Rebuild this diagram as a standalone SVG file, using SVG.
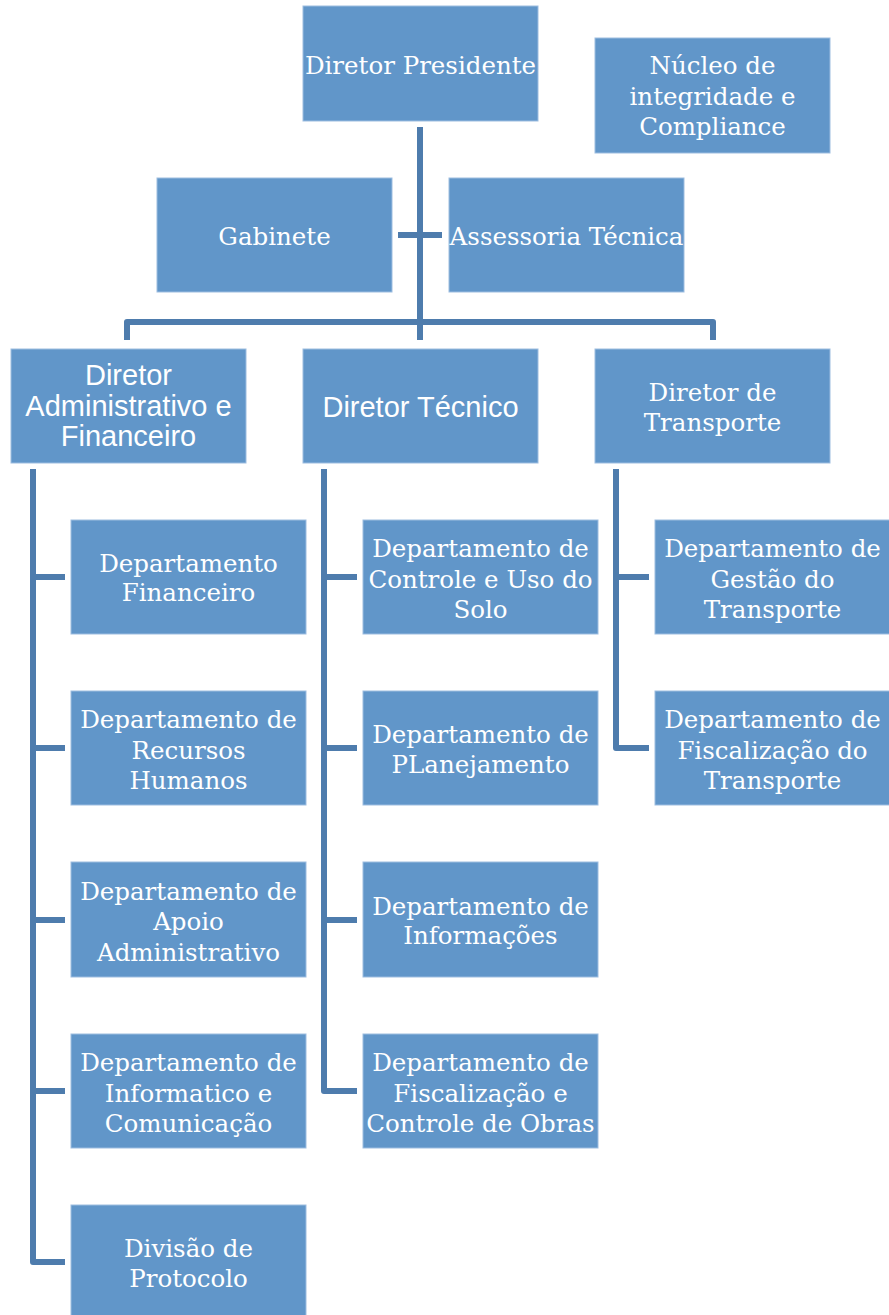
<svg xmlns="http://www.w3.org/2000/svg" width="889" height="1315" viewBox="0 0 889 1315">
<style>
.box{fill:#6196c9;stroke:#9dbde0;stroke-width:1}
.s{font-family:"DejaVu Serif","Liberation Serif",serif;font-size:24.5px;fill:#fff;text-anchor:middle}
.a{font-family:"Liberation Sans",Arial,sans-serif;font-size:29px;fill:#fff;text-anchor:middle}
.c{fill:none;stroke:#4e7cad;stroke-width:6;stroke-linejoin:round}
</style>
<rect width="889" height="1315" fill="#fff"/>
<g id="connectors">
<path class="c" d="M420,127V340"/>
<path class="c" d="M398,235H442"/>
<path class="c" d="M127,340V322H713V340"/>
<path class="c" d="M33,469V1262H65M33,577H65M33,748H65M33,920H65M33,1091H65"/>
<path class="c" d="M324,469V1091H357M324,577H357M324,748H357M324,920H357"/>
<path class="c" d="M616,469V748H649M616,577H649"/>
</g>
<g id="n-presidente"><rect class="box" x="303" y="6" width="235" height="115"/><text class="s" x="420.5" y="74">Diretor Presidente</text></g>
<g id="n-nucleo"><rect class="box" x="595" y="38" width="235" height="115"/><text class="s" x="712.5" y="74">Núcleo de</text><text class="s" x="712.5" y="104.5">integridade e</text><text class="s" x="712.5" y="135">Compliance</text></g>
<g id="n-gabinete"><rect class="box" x="157" y="178" width="235" height="114"/><text class="s" x="274.5" y="245">Gabinete</text></g>
<g id="n-assessoria"><rect class="box" x="449" y="178" width="235" height="114"/><text class="s" x="566.5" y="245">Assessoria Técnica</text></g>
<g id="n-daf"><rect class="box" x="11" y="349" width="235" height="114"/><text class="a" x="128.5" y="385">Diretor</text><text class="a" x="128.5" y="415.5">Administrativo e</text><text class="a" x="128.5" y="446">Financeiro</text></g>
<g id="n-dt"><rect class="box" x="303" y="349" width="235" height="114"/><text class="a" x="420.5" y="417">Diretor Técnico</text></g>
<g id="n-dtr"><rect class="box" x="595" y="349" width="235" height="114"/><text class="s" x="712.5" y="401">Diretor de</text><text class="s" x="712.5" y="431">Transporte</text></g>

<g id="n-fin"><rect class="box" x="71" y="520" width="235" height="114"/><text class="s" x="188.5" y="572">Departamento</text><text class="s" x="188.5" y="601">Financeiro</text></g>
<g id="n-rh"><rect class="box" x="71" y="691" width="235" height="114"/><text class="s" x="188.5" y="728">Departamento de</text><text class="s" x="188.5" y="758.5">Recursos</text><text class="s" x="188.5" y="789">Humanos</text></g>
<g id="n-apoio"><rect class="box" x="71" y="862" width="235" height="115"/><text class="s" x="188.5" y="899.5">Departamento de</text><text class="s" x="188.5" y="930">Apoio</text><text class="s" x="188.5" y="960.5">Administrativo</text></g>
<g id="n-info"><rect class="box" x="71" y="1034" width="235" height="114"/><text class="s" x="188.5" y="1071">Departamento de</text><text class="s" x="188.5" y="1101.5">Informatico e</text><text class="s" x="188.5" y="1132">Comunicação</text></g>
<g id="n-protocolo"><rect class="box" x="71" y="1205" width="235" height="115"/><text class="s" x="188.5" y="1257">Divisão de</text><text class="s" x="188.5" y="1286.5">Protocolo</text></g>

<g id="n-solo"><rect class="box" x="363" y="520" width="235" height="114"/><text class="s" x="480.5" y="557">Departamento de</text><text class="s" x="480.5" y="587.5">Controle e Uso do</text><text class="s" x="480.5" y="618">Solo</text></g>
<g id="n-plan"><rect class="box" x="363" y="691" width="235" height="114"/><text class="s" x="480.5" y="743">Departamento de</text><text class="s" x="480.5" y="772.5">PLanejamento</text></g>
<g id="n-infor"><rect class="box" x="363" y="862" width="235" height="115"/><text class="s" x="480.5" y="914.5">Departamento de</text><text class="s" x="480.5" y="944">Informações</text></g>
<g id="n-obras"><rect class="box" x="363" y="1034" width="235" height="114"/><text class="s" x="480.5" y="1071">Departamento de</text><text class="s" x="480.5" y="1101.5">Fiscalização e</text><text class="s" x="480.5" y="1132">Controle de Obras</text></g>

<g id="n-gestao"><rect class="box" x="655" y="520" width="235" height="114"/><text class="s" x="772.5" y="557">Departamento de</text><text class="s" x="772.5" y="587.5">Gestão do</text><text class="s" x="772.5" y="618">Transporte</text></g>
<g id="n-fisc"><rect class="box" x="655" y="691" width="235" height="114"/><text class="s" x="772.5" y="728">Departamento de</text><text class="s" x="772.5" y="758.5">Fiscalização do</text><text class="s" x="772.5" y="789">Transporte</text></g>
</svg>
